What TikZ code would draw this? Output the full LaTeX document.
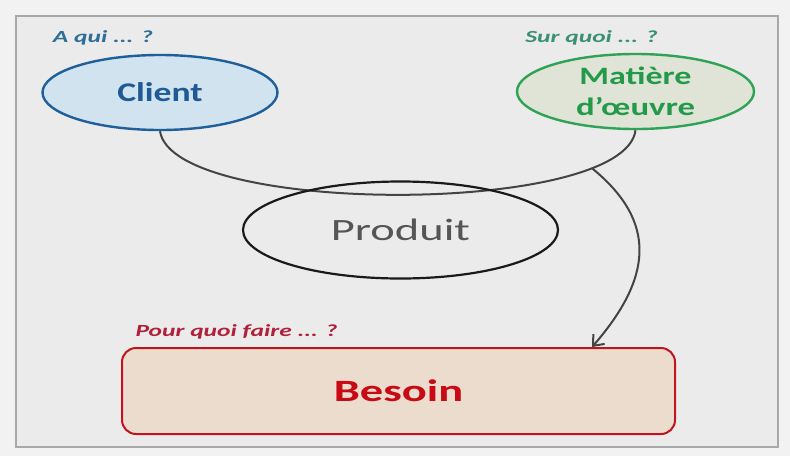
\documentclass[tikz,border=0pt]{standalone}
\usepackage{fontspec}
\setmainfont{Carlito}
\usepackage{graphicx}
\usetikzlibrary{shapes.geometric,arrows.meta,calc}
\definecolor{outerbg}{HTML}{F2F2F2}
\definecolor{innerbg}{HTML}{EBEBEB}
\definecolor{framecol}{HTML}{A8A8A8}
\definecolor{clientfill}{HTML}{D0E3EE}
\definecolor{clientborder}{HTML}{1F5F9A}
\definecolor{clienttext}{HTML}{1D5A96}
\definecolor{clientlabel}{HTML}{2E6E98}
\definecolor{matfill}{HTML}{E0E4D6}
\definecolor{matborder}{HTML}{2EA355}
\definecolor{mattext}{HTML}{239A4A}
\definecolor{matlabel}{HTML}{3A9070}
\definecolor{prodborder}{HTML}{1A1A1A}
\definecolor{prodtext}{HTML}{555555}
\definecolor{besfill}{HTML}{ECDCCD}
\definecolor{besborder}{HTML}{C0141E}
\definecolor{bestext}{HTML}{C80A14}
\definecolor{beslabel}{HTML}{B0203A}
\definecolor{conncol}{HTML}{444444}
\newcommand\hstretch[2]{\scalebox{#1}[1]{#2}}
\begin{document}
\begin{tikzpicture}[x=1pt,y=-1pt,
  bubble/.style={ellipse, inner sep=0pt, line width=2.4pt},
  qlabel/.style={inner sep=0pt, font=\fontsize{17}{20}\selectfont\bfseries\itshape},
  conn/.style={draw=conncol, line width=2pt}]
\useasboundingbox (0,0) rectangle (790,456);
\fill[outerbg] (0,0) rectangle (790,456);
\draw[framecol, line width=1.5pt, fill=innerbg] (16,16) rectangle (778,447);

\node[bubble, draw=clientborder, fill=clientfill, minimum width=235pt, minimum height=75pt] (client) at (160,92.5)
  {\fontsize{27}{30}\selectfont\bfseries\color{clienttext}\hstretch{1.32}{Client}};
\node[bubble, draw=matborder, fill=matfill, minimum width=237pt, minimum height=75pt, align=center,
  font=\fontsize{25}{31}\selectfont\bfseries, text=mattext] (mat) at (635.5,91.5)
  {\hstretch{1.36}{Matière}\\\hstretch{1.39}{d’œuvre}};

\node[qlabel, text=clientlabel] (qclient) at (103,38) {\hstretch{1.5}{A qui ... ?}};
\node[qlabel, text=matlabel] (qmat) at (591.5,38) {\hstretch{1.5}{Sur quoi ... ?}};

\draw[conn] (client.south) .. controls +(13,85) and +(-10.5,86) .. (mat.south) coordinate[pos=0.82] (branch);

\node[bubble, draw=prodborder, line width=2.2pt, minimum width=315pt, minimum height=97pt] (prod) at (400.5,230)
  {\fontsize{31}{34}\selectfont\color{prodtext}\hstretch{1.5}{Produit}};

\node[draw=besborder, fill=besfill, line width=2pt, rounded corners=14pt, minimum width=553pt, minimum height=86pt, inner sep=0pt] (besoin) at (398.5,391)
  {\fontsize{31}{34}\selectfont\bfseries\color{bestext}\hstretch{1.5}{Besoin}};
\node[qlabel, text=beslabel] (qbes) at (236.5,332) {\hstretch{1.5}{Pour quoi faire ... ?}};

\draw[conn, -{Straight Barb[length=9pt,width=15pt]}] (branch) .. controls (658,222) and (652,278) .. (besoin.north -| branch);
\end{tikzpicture}
\end{document}
